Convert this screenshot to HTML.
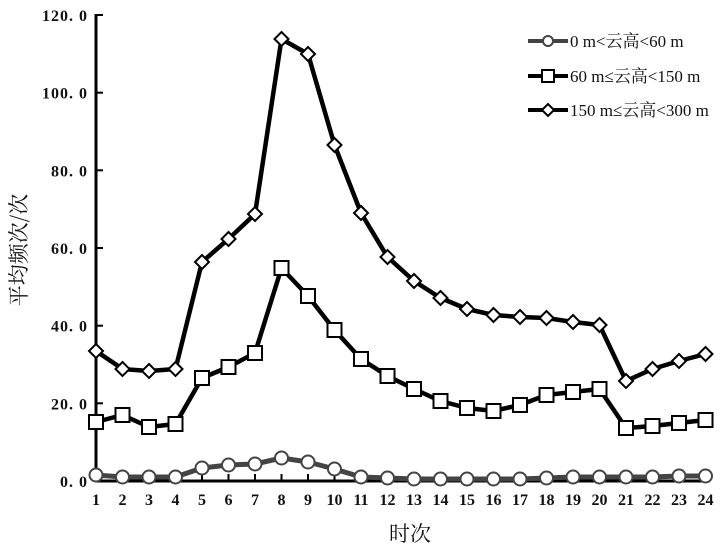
<!DOCTYPE html>
<html><head><meta charset="utf-8"><style>
html,body{margin:0;padding:0;background:#fff;width:723px;height:546px;overflow:hidden}
svg{display:block}
.t{font-family:"Liberation Serif","Noto Serif CJK SC",serif;font-weight:bold;font-size:16px;fill:#111;letter-spacing:1px}
.l{font-family:"Liberation Serif","Noto Serif CJK SC",serif;font-size:17px;fill:#111}
</style></head><body>
<svg id="s" width="723" height="546" xmlns="http://www.w3.org/2000/svg">
<line x1="96" y1="14" x2="96" y2="481" stroke="#000" stroke-width="3"/>
<line x1="95" y1="481" x2="708" y2="481" stroke="#000" stroke-width="3"/>
<g id="g"></g>
<text class="l" x="26" y="250" transform="rotate(-90 26 250)" text-anchor="middle" style="font-size:21px;font-family:'Noto Serif CJK SC',serif">平均频次/次</text>
<text class="l" x="410" y="541" text-anchor="middle" style="font-size:21px;font-family:'Noto Serif CJK SC',serif">时次</text>
<g>
<line x1="528" y1="41" x2="568" y2="41" stroke="#444" stroke-width="4"/><circle cx="548" cy="41" r="5" fill="#fff" stroke="#444" stroke-width="2"/>
<text class="l" x="570" y="47">0 m&lt;云高&lt;60 m</text>
<line x1="528" y1="76" x2="568" y2="76" stroke="#000" stroke-width="4"/><rect x="542" y="70" width="12" height="12" fill="#fff" stroke="#000" stroke-width="2"/>
<text class="l" x="570" y="82">60 m≤云高&lt;150 m</text>
<line x1="528" y1="110" x2="568" y2="110" stroke="#000" stroke-width="4"/><path d="M548 104 L554 110 L548 116 L542 110Z" fill="#fff" stroke="#000" stroke-width="2"/>
<text class="l" x="570" y="116">150 m≤云高&lt;300 m</text>
</g>
</svg>
<script>
var g=document.getElementById('g'),h='';
function X(i){return 96+(i-1)*26.5}
var yl=[[481,'0. 0'],[403.3,'20. 0'],[325.7,'40. 0'],[248,'60. 0'],[170.3,'80. 0'],[92.7,'100. 0'],[15,'120. 0']];
yl.forEach(function(a){h+='<line x1="96" y1="'+a[0]+'" x2="103" y2="'+a[0]+'" stroke="#000" stroke-width="2"/><text class="t" x="88" y="'+(a[0]+6)+'" text-anchor="end" style="white-space:pre">'+a[1]+'</text>'});
for(var i=1;i<=24;i++){h+='<line x1="'+X(i)+'" y1="481" x2="'+X(i)+'" y2="474" stroke="#000" stroke-width="2"/><text class="t" x="'+X(i)+'" y="505" text-anchor="middle" style="letter-spacing:0">'+i+'</text>'}
var D=[351,369,371,369,262,239,214,39,54,145,213,257,281,298,309,315,317,318,322,325,381,369,361,354];
var S=[422,415,427,424,378,367,353,268,296,330,359,376,389,401,408,411,405,395,392,389,428,426,423,420];
var C=[475,477,477,477,468,465,464,458,462,469,477,478,479,479,479,479,479,478,477,477,477,477,476,476];
function pl(a,c,w){return '<polyline fill="none" stroke="'+c+'" stroke-width="'+w+'" stroke-linejoin="round" points="'+a.map(function(y,i){return X(i+1)+','+y}).join(' ')+'"/>'}
h+=pl(C,'#444',5);
C.forEach(function(y,i){h+='<circle cx="'+X(i+1)+'" cy="'+y+'" r="6.5" fill="#fff" stroke="#444" stroke-width="2"/>'});
h+=pl(S,'#000',4.5);
S.forEach(function(y,i){h+='<rect x="'+(X(i+1)-7)+'" y="'+(y-7)+'" width="14" height="14" fill="#fff" stroke="#000" stroke-width="2"/>'});
h+=pl(D,'#000',4.5);
D.forEach(function(y,i){var x=X(i+1);h+='<path d="M'+x+' '+(y-7)+' L'+(x+7)+' '+y+' L'+x+' '+(y+7)+' L'+(x-7)+' '+y+'Z" fill="#fff" stroke="#000" stroke-width="2"/>'});
g.innerHTML=h;
</script>
</body></html>
